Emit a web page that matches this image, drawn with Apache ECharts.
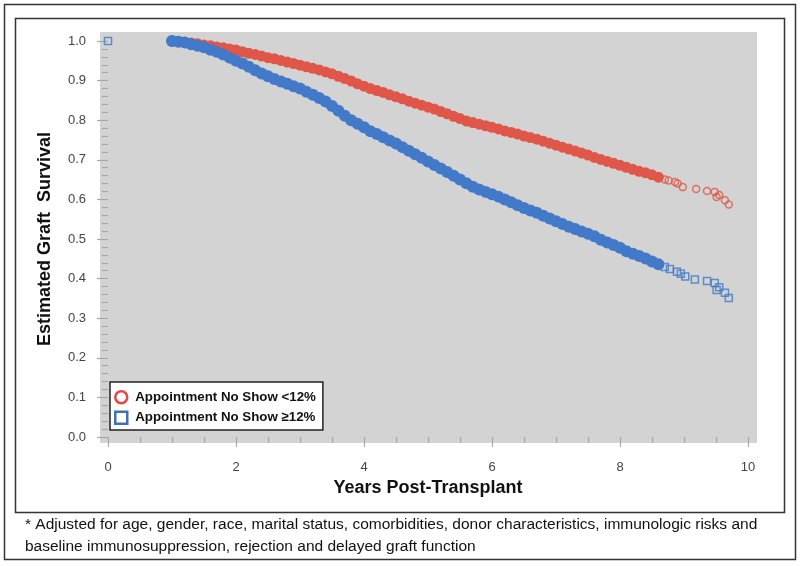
<!DOCTYPE html>
<html><head><meta charset="utf-8">
<script src="https://cdn.jsdelivr.net/npm/echarts@6/dist/echarts.min.js"></script>
<style>html,body{margin:0;padding:0;background:#fff}#c{width:800px;height:566px}</style>
</head><body><div id="c"></div>
<script>
// Shared time points (years) for the dense part of both curves
const denseYears = [1.0,1.1,1.2,1.3,1.4,1.5,1.6,1.7,1.8,1.9,2.0,2.1,2.2,2.3,2.4,2.5,2.6,2.7,2.8,2.9,3.0,3.1,3.2,3.3,3.4,3.5,3.6,3.7,3.8,3.9,4.0,4.1,4.2,4.3,4.4,4.5,4.6,4.7,4.8,4.9,5.0,5.1,5.2,5.3,5.4,5.5,5.6,5.7,5.8,5.9,6.0,6.1,6.2,6.3,6.4,6.5,6.6,6.7,6.8,6.9,7.0,7.1,7.2,7.3,7.4,7.5,7.6,7.7,7.8,7.9,8.0,8.1,8.2,8.3,8.4,8.5,8.6];
// Appointment No Show <12%
const lowSurv = [1.000,0.999,0.997,0.995,0.993,0.990,0.988,0.985,0.983,0.980,0.977,0.973,0.969,0.966,0.962,0.958,0.955,0.951,0.947,0.943,0.939,0.935,0.931,0.927,0.922,0.917,0.911,0.905,0.899,0.892,0.886,0.880,0.875,0.870,0.864,0.859,0.854,0.848,0.843,0.838,0.833,0.828,0.822,0.816,0.810,0.804,0.798,0.794,0.790,0.786,0.782,0.778,0.773,0.769,0.765,0.760,0.756,0.752,0.747,0.742,0.737,0.732,0.727,0.722,0.717,0.712,0.706,0.701,0.696,0.691,0.686,0.681,0.676,0.671,0.667,0.662,0.656];
const lowTailYears = [8.70,8.76,8.86,8.90,8.98,9.19,9.36,9.48,9.51,9.55,9.64,9.70];
const lowTailSurv  = [0.650,0.648,0.644,0.640,0.631,0.626,0.621,0.619,0.606,0.611,0.598,0.587];
// Appointment No Show >=12%
const highSurv = [1.000,0.998,0.996,0.992,0.988,0.984,0.978,0.973,0.966,0.958,0.950,0.943,0.935,0.926,0.918,0.911,0.904,0.898,0.892,0.886,0.880,0.872,0.864,0.856,0.847,0.836,0.824,0.811,0.800,0.791,0.782,0.772,0.765,0.757,0.749,0.741,0.732,0.723,0.714,0.705,0.696,0.687,0.678,0.669,0.660,0.650,0.641,0.632,0.625,0.619,0.613,0.607,0.600,0.593,0.585,0.578,0.572,0.566,0.559,0.552,0.545,0.538,0.531,0.525,0.519,0.513,0.507,0.498,0.491,0.485,0.478,0.469,0.463,0.457,0.451,0.443,0.436];
const highTailYears = [0.0,8.70,8.78,8.89,8.95,9.02,9.17,9.36,9.48,9.51,9.55,9.64,9.70];
const highTailSurv  = [1.000,0.429,0.424,0.417,0.412,0.405,0.398,0.394,0.389,0.371,0.378,0.364,0.351];

const xTicks = [0,2,4,6,8,10];
const yTicks = [0.0,0.1,0.2,0.3,0.4,0.5,0.6,0.7,0.8,0.9,1.0];
const nameLow = 'Appointment No Show <12%';
const nameHigh = 'Appointment No Show \u226512%';
const footnote = ['* Adjusted for age, gender, race, marital status, comorbidities, donor characteristics, immunologic risks and',
                  'baseline immunosuppression, rejection and delayed graft function'];

const RED = '#e0574a', BLUE = '#4279c9';
const zip = (a, b) => a.map((v, i) => [v, b[i]]);
const narrow = "'Liberation Sans Narrow', 'Liberation Sans', Arial, sans-serif";

const chart = echarts.init(document.getElementById('c'), null, {renderer: 'canvas'});
const option = {
  backgroundColor: '#fff',
  animation: false,
  grid: {left: 108, right: 52, top: 41, bottom: 129, containLabel: false},
  xAxis: {
    type: 'value', min: xTicks[0], max: xTicks[xTicks.length - 1], interval: 2, offset: 6,
    axisLine: {show: false},
    axisTick: {show: true, length: 10, lineStyle: {color: '#a8a8a8', width: 1.2}},
    minorTick: {show: true, splitNumber: 4, length: 6, lineStyle: {color: '#a8a8a8', width: 1.2}},
    splitLine: {show: false},
    axisLabel: {margin: 18, color: '#444', fontSize: 13, fontFamily: 'Liberation Sans, Arial, sans-serif',
      formatter: v => String(v)},
    name: 'Years Post-Transplant', nameLocation: 'middle', nameGap: 32,
    nameTextStyle: {fontSize: 18, fontWeight: 'bold', color: '#111', fontFamily: narrow}
  },
  yAxis: {
    type: 'value', min: yTicks[0], max: yTicks[yTicks.length - 1], interval: 0.1, offset: 8,
    axisLine: {show: false},
    axisTick: {show: true, length: 11, lineStyle: {color: '#a8a8a8', width: 1.2}},
    minorTick: {show: true, splitNumber: 5, length: 6, lineStyle: {color: '#a8a8a8', width: 1.2}},
    splitLine: {show: false},
    axisLabel: {margin: 14, color: '#444', fontSize: 13, fontFamily: 'Liberation Sans, Arial, sans-serif',
      formatter: v => v.toFixed(1)},
    name: 'Estimated Graft  Survival', nameLocation: 'middle', nameGap: 46,
    nameTextStyle: {fontSize: 18, fontWeight: 'bold', color: '#111', fontFamily: narrow}
  },
  legend: {
    left: 110, top: 382, orient: 'vertical', itemGap: 6, itemWidth: 12, itemHeight: 12,
    padding: [8, 7, 5, 4], backgroundColor: '#fff', borderColor: '#222', borderWidth: 1.5,
    textStyle: {fontSize: 13.3, fontWeight: 'bold', color: '#111', fontFamily: 'Liberation Sans, Arial, sans-serif', padding: [0, 0, 0, 3]},
    data: [
      {name: nameLow, icon: 'circle', itemStyle: {color: '#fff', borderColor: '#e84545', borderWidth: 2.5}},
      {name: nameHigh, icon: 'rect', itemStyle: {color: '#fff', borderColor: '#3f6fb8', borderWidth: 2.5}}
    ]
  },
  series: [
    {name: nameLow, type: 'scatter', symbol: 'circle', symbolSize: 11, z: 3,
      itemStyle: {color: RED, opacity: 1}, data: zip(denseYears, lowSurv)},
    {name: 'low-tail', type: 'scatter', symbol: 'circle', symbolSize: 7, z: 3,
      itemStyle: {color: 'rgba(0,0,0,0)', borderColor: RED, borderWidth: 1.5}, data: zip(lowTailYears, lowTailSurv)},
    {name: nameHigh, type: 'scatter', symbol: 'circle', symbolSize: 12, z: 3,
      itemStyle: {color: BLUE, opacity: 1}, data: zip(denseYears, highSurv)},
    {name: 'high-tail', type: 'scatter', symbol: 'rect', symbolSize: 7, z: 3,
      itemStyle: {color: 'rgba(0,0,0,0)', borderColor: BLUE, borderWidth: 1.5}, data: zip(highTailYears, highTailSurv)}
  ]
};
chart.setOption(option);

// Gray plot background, sized from the axis scales (slightly padded beyond 0..10 and 0..1)
const p0 = chart.convertToPixel({gridIndex: 0}, [-0.125, 1.023]);
const p1 = chart.convertToPixel({gridIndex: 0}, [10.14, -0.015]);
chart.setOption({
  graphic: [
    {type: 'rect', z: -10, silent: true, shape: {x: p0[0], y: p0[1], width: p1[0] - p0[0], height: p1[1] - p0[1]},
      style: {fill: '#d3d3d3'}},
    {type: 'rect', z: -20, silent: true, shape: {x: 4.5, y: 4.5, width: 791, height: 555},
      style: {fill: 'none', stroke: '#333', lineWidth: 1.5}},
    {type: 'rect', z: -20, silent: true, shape: {x: 15.5, y: 18.5, width: 769, height: 494},
      style: {fill: 'none', stroke: '#333', lineWidth: 1.5}},
    {type: 'text', z: 5, left: 25, top: 514, silent: true,
      style: {text: footnote.join('\n'), fontSize: 15.5, lineHeight: 22, fill: '#111', fontFamily: narrow}}
  ]
});
</script></body></html>
